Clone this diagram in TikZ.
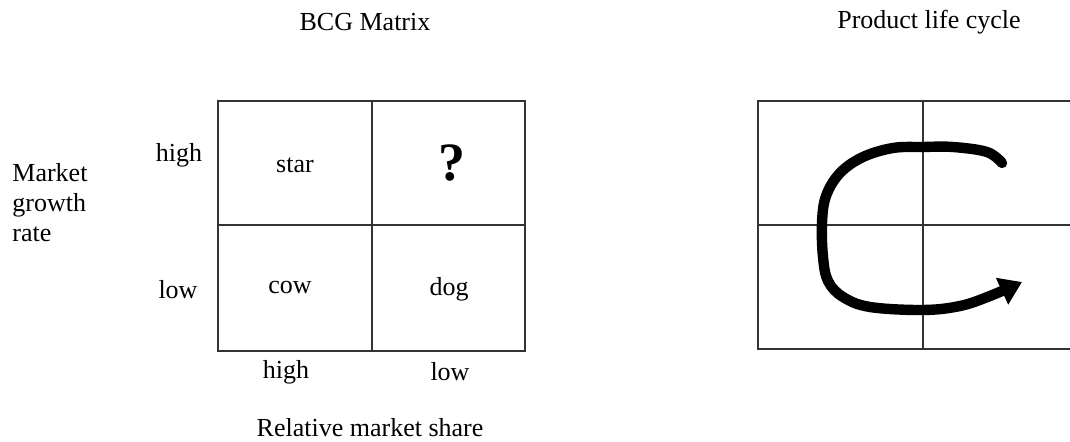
\documentclass[tikz,border=0pt]{standalone}
\usepackage{fontspec}
\setmainfont{Liberation Serif}
\usepackage{tikz}
\usetikzlibrary{arrows.meta, positioning}
\tikzset{
  gridline/.style={draw=black!80, line width=1pt},
  lbl/.style={font=\fontsize{13}{15}\selectfont, inner sep=0pt},
  title/.style={font=\fontsize{13}{15}\selectfont, inner sep=0pt},
  cycle/.style={line width=5.2pt, line cap=round, line join=round,
    -{Triangle[length=11pt, width=14pt]}},
}

\begin{document}
\begin{tikzpicture}[x=0.5pt, y=-0.5pt]
  \useasboundingbox (0,0) rectangle (1070,442);

  % --- Titles ---
  \node (bcgtitle) [title] at (365,22) {BCG Matrix};
  \node (plctitle) [title] at (929,22) {Product life cycle};

  % --- BCG matrix grid ---
  \draw[gridline] (218,101) rectangle (525,351);
  \draw[gridline] (372,101) -- (372,351);
  \draw[gridline] (218,225) -- (525,225);

  % --- Cell labels ---
  \node (star) [lbl] at (295,165) {star};
  \node (question) [inner sep=0pt, font=\fontsize{27}{30}\selectfont\bfseries] at (452,163) {?};
  \node (cow) [lbl] at (290,288) {cow};
  \node (dog) [lbl] at (449,289) {dog};

  % --- Axis labels ---
  \node (rowhigh) [lbl] at (179,155) {high};
  \node (rowlow) [lbl] at (178,290) {low};
  \node (colhigh) [lbl] at (286,372) {high};
  \node (collow) [lbl] at (450,372) {low};
  \node (growth) [lbl, anchor=west, align=left] at (12,203) {Market\\growth\\rate};
  \node (share) [lbl, anchor=base] at (370,437) {Relative market share};

  % --- Product life cycle grid (open on the right) ---
  \draw[gridline] (1072,101) -- (758,101) -- (758,349) -- (1072,349);
  \draw[gridline] (923,101) -- (923,349);
  \draw[gridline] (758,225) -- (1072,225);

  % --- Cycle stroke ---
  \draw[cycle] plot[smooth, tension=0.6] coordinates {
    (1002,163) (987,152) (953,147) (923,147) (893,148) (863,157) (840,173)
    (826,196) (822,223) (823,257) (828,281) (843,297) (870,307) (923,310)
    (960,306) (990,296) (1022,282)};

\end{tikzpicture}
\end{document}
